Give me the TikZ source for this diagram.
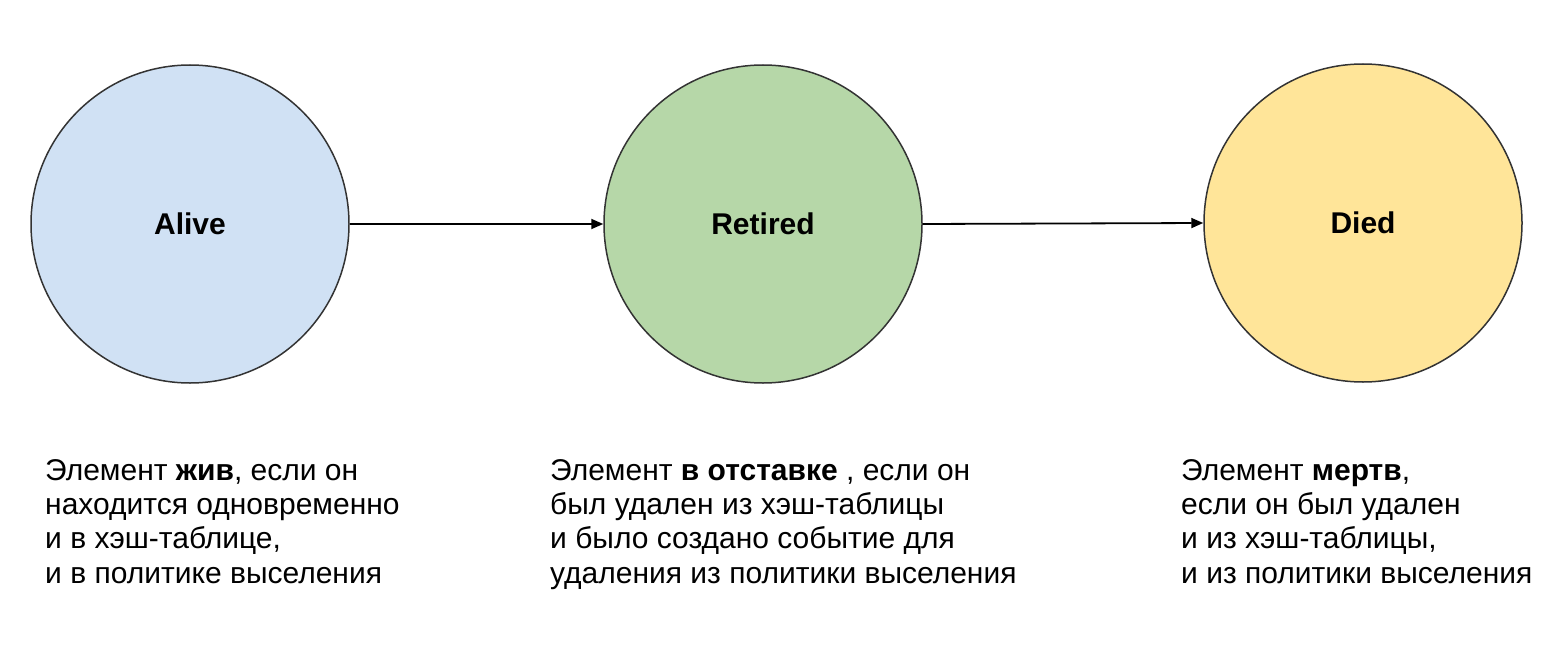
\documentclass[tikz,border=0pt]{standalone}
\usepackage{fontspec}
\setmainfont{Liberation Sans}
\usetikzlibrary{arrows.meta}
\definecolor{alivefill}{HTML}{D0E1F4}
\definecolor{retfill}{HTML}{B6D7A8}
\definecolor{diedfill}{HTML}{FFE599}
\definecolor{edge}{HTML}{333333}
\tikzset{
  state/.style={circle, draw=edge, line width=1.5pt, minimum size=318pt, inner sep=0pt, font=\fontsize{30}{34}\selectfont\bfseries},
  desc/.style={anchor=north west, align=left, inner sep=0pt, font=\fontsize{30}{34.3}\selectfont},
  conn/.style={line width=1.8pt, -{Triangle[length=12pt,width=10pt]}}
}
\begin{document}
\begin{tikzpicture}[x=1pt,y=-1pt]
\useasboundingbox (0,0) rectangle (1560,650);
\node[state, fill=alivefill] (alive) at (190,224) {Alive};
\node[state, fill=retfill] (retired) at (763,224) {Retired};
\node[state, fill=diedfill] (died) at (1363,223) {Died};
\draw[conn] (alive.east) -- (retired.west);
\draw[conn] (retired.east) -- (died.west);
\node[desc] (t1) at (45,459) {Элемент \textbf{жив}, если он\\находится одновременно\\и в хэш-таблице,\\и в политике выселения};
\node[desc] (t2) at (550,459) {Элемент \textbf{в отставке} , если он\\был удален из хэш-таблицы\\и было создано событие для\\удаления из политики выселения};
\node[desc] (t3) at (1181,459) {Элемент \textbf{мертв},\\если он был удален\\и из хэш-таблицы,\\и из политики выселения};
\end{tikzpicture}
\end{document}
